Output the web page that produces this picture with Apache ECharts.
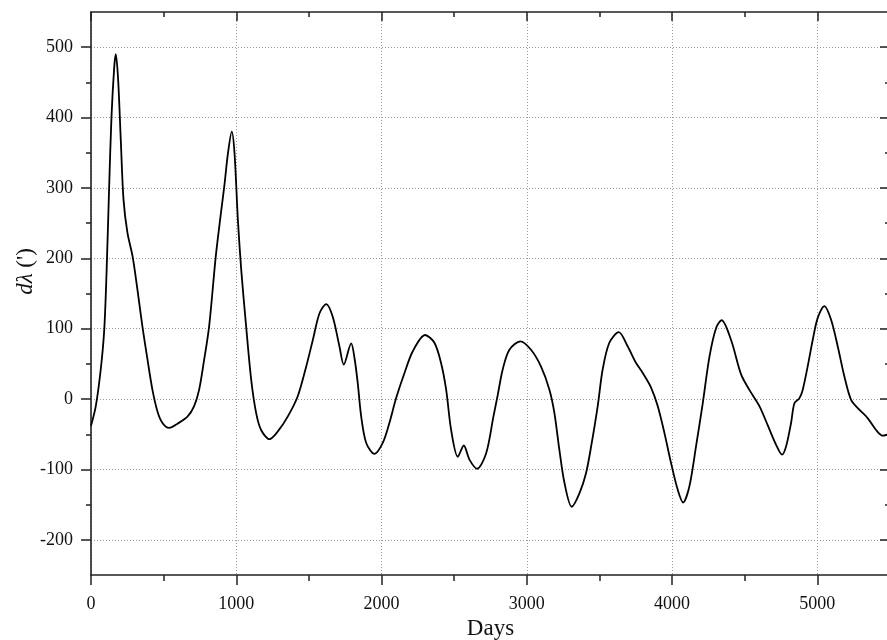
<!DOCTYPE html>
<html>
<head>
<meta charset="utf-8">
<script src="https://cdn.jsdelivr.net/npm/echarts@6/dist/echarts.min.js"></script>
<style>
  html, body { margin: 0; padding: 0; background: #fff; }
  #chart { width: 887px; height: 640px; }
</style>
</head>
<body>
<div id="chart"></div>
<script>
// Longitude deviation dλ (arcmin) against elapsed days
const days = [
  0, 33, 67, 91, 107, 125, 141, 160, 171, 187, 205, 224, 251, 286, 320, 354, 389, 423, 458, 492,
  538, 595, 664, 710, 744, 779, 813, 859, 893, 919, 942, 969, 988, 1011, 1034, 1068, 1103, 1137, 1171, 1229,
  1286, 1354, 1423, 1481, 1527, 1573, 1619, 1664, 1710, 1740, 1791, 1814, 1836, 1860, 1894, 1951, 2009, 2054, 2100, 2158,
  2215, 2300, 2364, 2410, 2445, 2479, 2525, 2566, 2605, 2658, 2720, 2770, 2800, 2834, 2880, 2956, 3029, 3098, 3156, 3190,
  3224, 3259, 3309, 3362, 3408, 3443, 3488, 3522, 3568, 3633, 3694, 3750, 3798, 3856, 3901, 3947, 3993, 4039, 4076, 4119,
  4165, 4211, 4257, 4303, 4341, 4406, 4475, 4532, 4601, 4658, 4716, 4757, 4785, 4819, 4842, 4876, 4899, 4933, 4968, 5002,
  5048, 5094, 5140, 5186, 5232, 5289, 5346, 5404, 5449, 5490
];
const dLambda = [
  -38, -10, 42, 98, 179, 302, 401, 472, 490, 453, 368, 283, 236, 203, 155, 103, 56, 13, -18, -34,
  -41, -35, -25, -10, 13, 56, 103, 203, 262, 305, 348, 380, 349, 255, 184, 103, 27, -20, -44, -57,
  -46, -25, 4, 46, 84, 122, 135, 117, 75, 49, 79, 58, 23, -25, -62, -78, -62, -34, 1, 37,
  68, 91, 80, 51, 13, -44, -82, -66, -86, -99, -77, -25, 6, 42, 70, 82, 70, 46, 13, -20,
  -72, -119, -153, -134, -105, -67, -10, 42, 80, 95, 75, 52, 37, 16, -10, -48, -91, -129, -147, -124,
  -67, -6, 60, 101, 112, 84, 35, 13, -10, -37, -65, -79, -67, -34, -6, 1, 13, 46, 84, 115,
  132, 113, 75, 32, -1, -15, -27, -44, -52, -50
];

// Axis ranges and tick positions
const xRange = [0, 5500];
const yRange = [-250, 550];
const xMajorTicks = [0, 1000, 2000, 3000, 4000, 5000];
const xMinorTicks = [500, 1500, 2500, 3500, 4500];
const yMajorTicks = [-200, -100, 0, 100, 200, 300, 400, 500];
const yMinorTicks = [-150, -50, 50, 150, 250, 350, 450];

const FONT = '"Liberation Serif", "Times New Roman", serif';
const AXIS_COLOR = '#222';
const GRID_LINE = { show: true, lineStyle: { color: '#9a9a9a', width: 1, type: [1, 2] } };

function xAxisDef(position, ticks, len, inside, opts) {
  return Object.assign({
    type: 'value', position: position, min: xRange[0], max: xRange[1],
    axisLine: { show: false, onZero: false },
    axisTick: { show: true, customValues: ticks, length: len, inside: inside,
                lineStyle: { color: AXIS_COLOR, width: 1.5 } },
    axisLabel: { show: false },
    splitLine: { show: false }
  }, opts || {});
}
function yAxisDef(position, ticks, len, inside, opts) {
  return Object.assign({
    type: 'value', position: position, min: yRange[0], max: yRange[1],
    axisLine: { show: false, onZero: false },
    axisTick: { show: true, customValues: ticks, length: len, inside: inside,
                lineStyle: { color: AXIS_COLOR, width: 1.5 } },
    axisLabel: { show: false },
    splitLine: { show: false }
  }, opts || {});
}

const chart = echarts.init(document.getElementById('chart'), null, { renderer: 'canvas' });

chart.setOption({
  animation: false,
  backgroundColor: '#fff',
  // fixed plot rectangle; the right frame edge sits just past the visible area
  grid: { left: 91, width: 799, top: 12, bottom: 65, outerBoundsMode: 'none', containLabel: false },
  xAxis: [
    xAxisDef('bottom', xMajorTicks, 10, false, {
      axisLine: { show: true, onZero: false, lineStyle: { color: AXIS_COLOR, width: 1.6 } },
      axisLabel: { show: true, customValues: xMajorTicks, margin: 20,
                   formatter: v => String(v),
                   color: '#111', fontFamily: FONT, fontSize: 18 },
      splitLine: GRID_LINE,
      name: 'Days', nameLocation: 'middle', nameGap: 42,
      nameTextStyle: { color: '#111', fontFamily: FONT, fontSize: 23 }
    }),
    xAxisDef('bottom', xMinorTicks, 6, false),
    xAxisDef('top', xMajorTicks, 9, true, {
      axisLine: { show: true, onZero: false, lineStyle: { color: AXIS_COLOR, width: 1.6 } }
    }),
    xAxisDef('top', xMinorTicks, 5, true)
  ],
  yAxis: [
    yAxisDef('left', yMajorTicks, 10, false, {
      axisLine: { show: true, onZero: false, lineStyle: { color: AXIS_COLOR, width: 1.6 } },
      axisLabel: { show: true, customValues: yMajorTicks, margin: 18,
                   formatter: v => String(v),
                   color: '#111', fontFamily: FONT, fontSize: 18 },
      splitLine: GRID_LINE,
      name: '{i|dλ} (\')', nameLocation: 'middle', nameGap: 54, nameRotate: 90,
      nameMoveOverlap: false,
      nameTextStyle: {
        color: '#111', fontFamily: FONT, fontSize: 23, padding: [0, 0, 0, 44],
        rich: { i: { fontStyle: 'italic', fontFamily: FONT, fontSize: 23, color: '#111' } }
      }
    }),
    yAxisDef('left', yMinorTicks, 5, false),
    yAxisDef('right', yMajorTicks, 10, true, {
      axisLine: { show: true, onZero: false, lineStyle: { color: AXIS_COLOR, width: 1.6 } }
    }),
    yAxisDef('right', yMinorTicks, 5, true)
  ],
  series: [{
    type: 'line',
    xAxisIndex: 0,
    yAxisIndex: 0,
    data: days.map((d, i) => [d, dLambda[i]]),
    smooth: 0.3,
    symbol: 'none',
    clip: true,
    lineStyle: { color: '#000', width: 1.8 }
  }]
});
</script>
</body>
</html>
